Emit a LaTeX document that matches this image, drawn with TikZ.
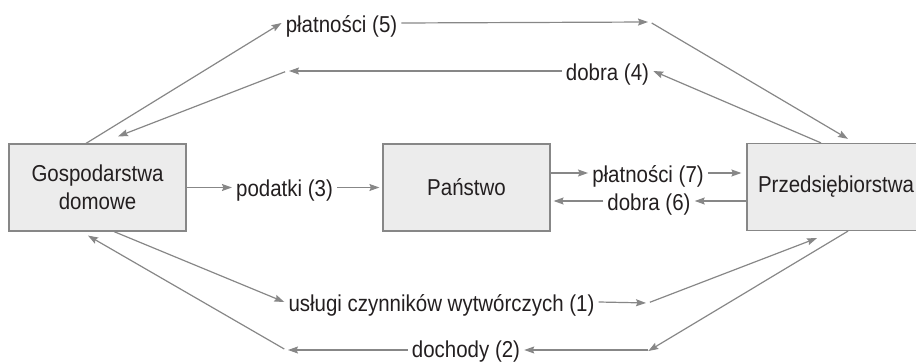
\documentclass[tikz,border=0pt]{standalone}
\usepackage{fontspec}
\setmainfont{Liberation Sans}[FakeStretch=0.89]
\usetikzlibrary{arrows.meta,calc}
\definecolor{linegray}{RGB}{135,135,135}
\definecolor{boxgray}{RGB}{236,236,236}
\definecolor{inkblack}{RGB}{35,31,32}
\tikzset{
  sector/.style={draw=linegray, fill=boxgray, line width=1.2pt, minimum height=87pt,
    align=center, text=inkblack, font=\fontsize{23}{28}\selectfont},
  flow/.style={draw=linegray, line width=1.2pt, -{Stealth[length=10pt,width=7pt,inset=1.5pt]}},
  lbl/.style={text=inkblack, font=\fontsize{23}{28}\selectfont, inner xsep=4pt,
    inner ysep=0pt, text height=24pt, text depth=5pt}
}
\begin{document}
\begin{tikzpicture}[x=1pt,y=-1pt]
    \useasboundingbox (0,0) rectangle (916,363);

    % 部门
    \node[sector, minimum width=177pt] (gosp) at (97.5,187.5) {Gospodarstwa\\domowe};
    \node[sector, minimum width=167pt] (panstwo) at (466.5,187.5) {Państwo};
    \node[sector, minimum width=178pt] (przed) at (836,187) {Przedsiębiorstwa};

    % 流量标签
    \node[lbl] (l5) at (341.5,23) {płatności (5)};
    \node[lbl] (l4) at (607.5,71) {dobra (4)};
    \node[lbl] (l3) at (284.5,187.5) {podatki (3)};
    \node[lbl] (l7) at (648,173) {płatności (7)};
    \node[lbl] (l6) at (649,201) {dobra (6)};
    \node[lbl] (l1) at (441.5,302) {usługi czynników wytwórczych (1)};
    \node[lbl, text depth=8pt] (l2) at (466,350) {dochody (2)};

    % 转折点
    \coordinate (c5) at (650,22);
    \coordinate (c4) at (287,71);
    \coordinate (c1) at (648,303);
    \coordinate (c2r) at (650,350);
    \coordinate (c2l) at (286,350);

    % 上方
    \draw[flow] ([xshift=-11.5pt]gosp.north) -- (l5.west);
    \draw[flow, shorten >=2pt] (l5.east) -- (c5);
    \draw[flow, shorten <=2pt] (c5) -- ([xshift=12pt,yshift=4pt]przed.north);

    \draw[flow] ([xshift=-15pt]przed.north) -- (l4.east);
    \draw[flow, shorten >=2pt] (l4.west) -- (c4);
    \draw[flow, shorten <=2pt] (c4) -- ([xshift=20.5pt,yshift=7pt]gosp.north);

    % 中间
    \draw[flow] (gosp.east) -- (l3.west);
    \draw[flow, shorten >=3pt] (l3.east) -- (panstwo.west);
    \draw[flow] (panstwo.east |- l7) -- (l7.west);
    \draw[flow, shorten >=5pt] (l7.east) -- (przed.west |- l7);
    \draw[flow] (przed.west |- l6) -- (l6.east);
    \draw[flow, shorten >=3pt] (l6.west) -- (panstwo.east |- l6);

    % 下方
    \draw[flow] ([xshift=16.5pt]gosp.south) -- (l1.west);
    \draw[flow, shorten >=2pt] (l1.east) -- (c1);
    \draw[flow, shorten <=2pt] (c1) -- ([xshift=-19pt,yshift=-7pt]przed.south);

    \draw[flow, shorten >=-2pt] ([xshift=12pt]przed.south) -- (c2r);
    \draw[flow, shorten <=2pt] (c2r) -- (l2.east);
    \draw[flow, shorten >=2pt] (l2.west) -- (c2l);
    \draw[flow, shorten <=2pt] (c2l) -- ([xshift=-9.5pt,yshift=-4pt]gosp.south);
\end{tikzpicture}
\end{document}
